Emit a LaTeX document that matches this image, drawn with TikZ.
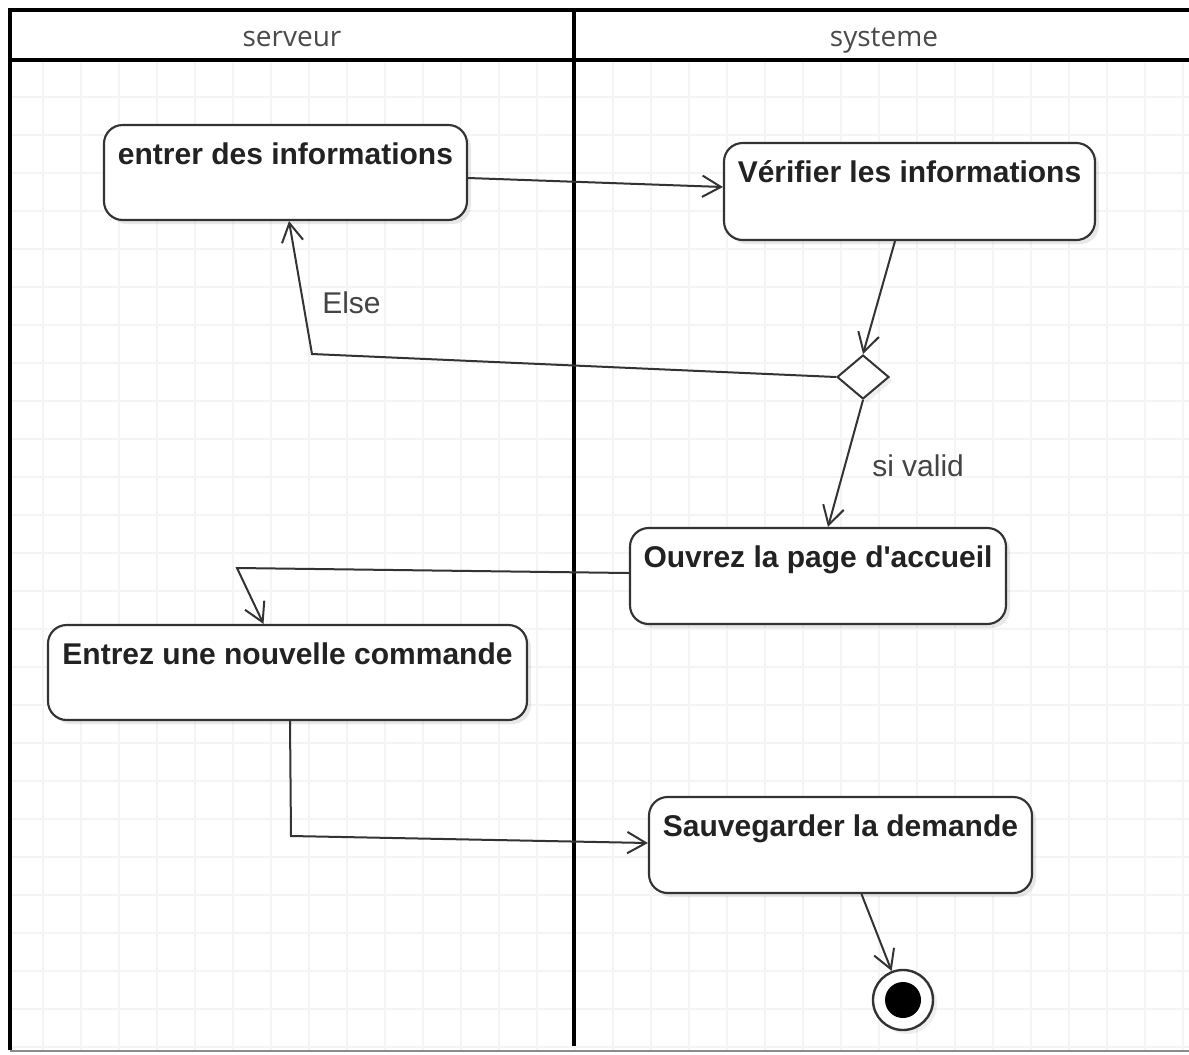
\documentclass[tikz,border=0pt]{standalone}
\usepackage{fontspec}
\setmainfont{Liberation Sans}
\newfontfamily\hdrfont{Open Sans}
\newfontfamily\apfont{Liberation Sans}[Ligatures=TeXOff]
\usetikzlibrary{arrows.meta,shapes.geometric,shadows,calc}
\definecolor{ink}{HTML}{333333}
\definecolor{txt}{HTML}{222222}
\definecolor{lbltxt}{HTML}{444444}
\definecolor{hdrtxt}{HTML}{4A4A4A}
\definecolor{gridc}{HTML}{F4F4F4}
\begin{document}
\begin{tikzpicture}[x=0.75pt,y=-0.75pt,
  gridline/.style={draw=gridc, line width=1pt},
  frame/.style={draw=black, line width=3pt},
  hdr/.style={font=\hdrfont\fontsize{21}{25}\selectfont, text=hdrtxt, inner sep=0, anchor=base},
  actbox/.style={draw=ink, line width=1.6pt, rounded corners=14pt, fill=white, inner sep=0,
     drop shadow={opacity=0.18, shadow xshift=3pt, shadow yshift=-3pt}},
  acttext/.style={font=\bfseries\fontsize{22.5}{27}\selectfont, text=txt, inner sep=0, anchor=base},
  lbl/.style={font=\fontsize{22.5}{27}\selectfont, text=lbltxt, inner sep=0, anchor=base west},
  conn/.style={draw=ink, line width=1.5pt, -{Straight Barb[length=14pt,width=16pt]}},
  decision/.style={diamond, draw=ink, line width=1.5pt, fill=white, inner sep=0,
     minimum width=39pt, minimum height=33pt,
     drop shadow={opacity=0.12, shadow xshift=3pt, shadow yshift=-3pt}},
  finalo/.style={circle, draw=ink, line width=1.8pt, fill=white, minimum size=45pt, inner sep=0,
     drop shadow={opacity=0.12, shadow xshift=3pt, shadow yshift=-3pt}},
  finali/.style={circle, fill=black, minimum size=27pt, inner sep=0}
]
\useasboundingbox (0,0) rectangle (1189,1054);
\fill[white] (0,0) rectangle (1189,1054);
% grid
\foreach \x in {43,81,...,1189} \draw[gridline] (\x,62) -- (\x,1050);
\foreach \y in {97,135,...,1050} \draw[gridline] (12,\y) -- (1189,\y);
% swimlane frame
\draw[frame] (1189,10) -- (10,10) -- (10,1050);
\draw[frame] (10,60) -- (1189,60);
\draw[frame] (574,10) -- (574,1046);
\draw[draw=black!45, line width=1.2pt] (10,1051) -- (1189,1051);
\node[hdr] (h1) at (292,46) {serveur};
\node[hdr] (h2) at (884,46) {systeme};
% activities
\node[actbox, minimum width=272.25pt, minimum height=71.25pt] (a) at (285.5,172.5) {};
\node[actbox, minimum width=278.25pt, minimum height=72.75pt] (b) at (909.5,191.5) {};
\node[decision] (d) at (863,377) {};
\node[actbox, minimum width=282pt, minimum height=72pt] (c) at (818,576) {};
\node[actbox, minimum width=359.25pt, minimum height=71.25pt] (e) at (287.5,672.5) {};
\node[actbox, minimum width=287.25pt, minimum height=72pt] (f) at (840.5,845) {};
\node[finalo] (g) at (903,1000) {};
\node[finali] (gi) at (g.center) {};
% texts
\node[acttext] (ta) at ($(a.north)+(0,41)$) {entrer des informations};
\node[acttext] (tb) at ($(b.north)+(0,41)$) {Vérifier les informations};
\node[acttext] (tc) at ($(c.north)+(0,41)$) {Ouvrez la page d{\apfont '}accueil};
\node[acttext] (te) at ($(e.north)+(0,41)$) {Entrez une nouvelle commande};
\node[acttext] (tf) at ($(f.north)+(0,41)$) {Sauvegarder la demande};
% connectors
\draw[conn] ($(a.east)+(0,5.5)$) -- ($(b.west)+(0,-4.5)$);
\draw[conn] ($(b.south)+(-14.5,0)$) -- (d.north);
\coordinate (k1) at (312,354);
\draw[conn] (d.west) -- (k1) -- ($(a.south)+(3.5,0)$);
\node[lbl] (l1) at (322,313) {Else};
\draw[conn] (d.south) -- ($(c.north)+(10,0)$);
\node[lbl] (l2) at (872,476) {si valid};
\coordinate (k2) at (237,568);
\draw[conn] ($(c.west)+(0,-3)$) -- (k2) -- ($(e.north)+(-24,0)$);
\coordinate (k3) at (291,836);
\draw[conn] ($(e.south)+(2.5,0)$) -- (k3) -- ($(f.west)+(0,-2)$);
\draw[conn] ($(f.south)+(21,0)$) -- (g);
\end{tikzpicture}
\end{document}
